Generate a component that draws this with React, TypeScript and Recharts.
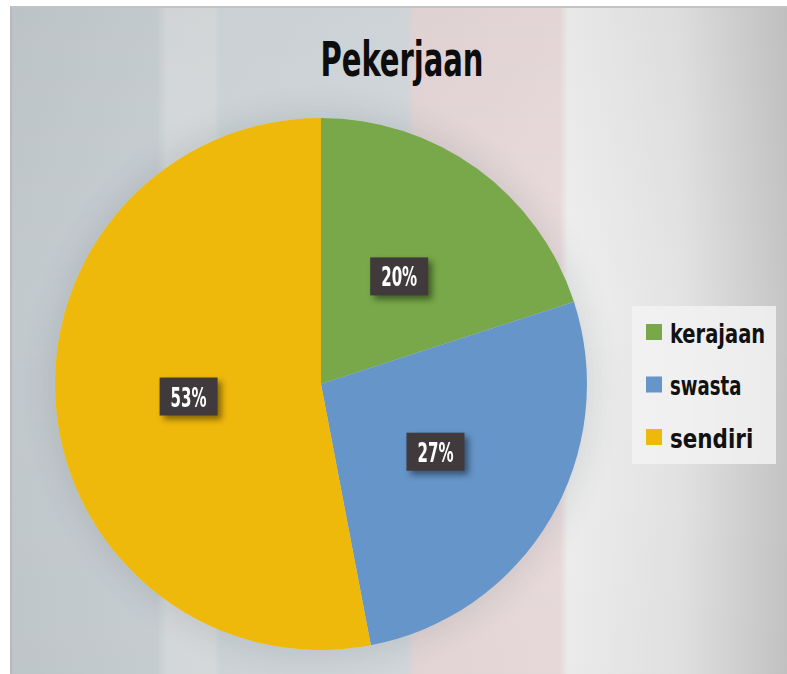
import { PieChart, Pie, Cell, Legend } from "recharts";

const categories = ["kerajaan", "swasta", "sendiri"];
const values = [20, 27, 53];
const colors = ["#78a849", "#6595c9", "#efb90b"];

const data = categories.map((name, i) => ({ name, value: values[i] }));

const FONT = "'Liberation Sans Narrow', 'DejaVu Sans Condensed', sans-serif";
const RADIAN = Math.PI / 180;

function PctLabel(props: any) {
  const { cx, cy, midAngle, outerRadius, percent } = props;
  const r = outerRadius * 0.5;
  const x = cx + r * Math.cos(-midAngle * RADIAN);
  const y = cy + r * Math.sin(-midAngle * RADIAN);
  const text = `${Math.round(percent * 100)}%`;
  return (
    <g style={{ filter: "drop-shadow(4px 4px 3px rgba(0,0,0,0.45))" }}>
      <rect x={x - 29} y={y - 19} width={58} height={38} fill="#403a3c" />
      <text
        x={x}
        y={y + 10}
        textAnchor="middle"
        fill="#ffffff"
        fontFamily={FONT}
        fontWeight="bold"
        fontSize={27}
        textLength={36}
        lengthAdjust="spacingAndGlyphs"
      >
        {text}
      </text>
    </g>
  );
}

function LegendBox() {
  return (
    <div style={{ width: 144, height: 158, background: "rgba(242,242,242,0.85)" }}>
      <svg width={144} height={158} style={{ overflow: "visible" }}>
        {categories.map((c, i) => (
          <g key={c}>
            <rect x={14} y={18 + i * 52.5} width={16} height={16} fill={colors[i]} />
            <text
              x={38}
              y={35 + i * 52.5}
              fill="#111"
              fontFamily={FONT}
              fontWeight="bold"
              fontSize={22}
              textLength={c.length * 11.9}
              lengthAdjust="spacingAndGlyphs"
              style={{ transform: `translateY(${3 + i * 0}px) scaleY(1.18)`, transformBox: "fill-box", transformOrigin: "left bottom" }}
            >
              {c}
            </text>
          </g>
        ))}
      </svg>
    </div>
  );
}

export default function App() {
  return (
    <div style={{ position: "fixed", left: 0, top: 0, width: 787, height: 674, background: "#ffffff", overflow: "hidden" }}>
      <div
        style={{
          position: "absolute",
          left: 10,
          top: 6,
          right: 0,
          bottom: 0,
          borderLeft: "2px solid #b9b9b9",
          borderTop: "2px solid #c2c2c2",
          background:
            "linear-gradient(90deg, #c2c9cd 0px, #c9d0d4 145px, #d8dbdd 155px, #d9dcdd 202px, #d0d7da 208px, #d4dadd 395px, #e6d8d9 402px, #eadcdd 548px, #efefef 556px, #e3e3e3 670px, #c5c5c5 775px)",
        }}
      />
      <div
        style={{
          position: "absolute",
          left: 12,
          top: 8,
          right: 0,
          bottom: 0,
          background: "linear-gradient(180deg, rgba(0,0,0,0.03), rgba(0,0,0,0) 45%, rgba(0,0,0,0.02))",
        }}
      />
      <div
        style={{
          position: "absolute",
          left: 321 - 266,
          top: 384 - 266,
          width: 532,
          height: 532,
          borderRadius: "50%",
          boxShadow: "0 0 28px 8px rgba(60,70,80,0.12)",
        }}
      />
      <svg style={{ position: "absolute", left: 0, top: 0 }} width={787} height={100}>
        <text
          x={402}
          y={76}
          textAnchor="middle"
          fill="#0d0d0d"
          fontFamily={FONT}
          fontWeight="bold"
          fontSize={48}
          textLength={163}
          lengthAdjust="spacingAndGlyphs"
        >
          Pekerjaan
        </text>
      </svg>
      <div style={{ position: "absolute", left: 0, top: 0 }}>
        <PieChart width={787} height={674} margin={{ top: 0, right: 0, bottom: 0, left: 0 }}>
          <Pie
            data={data}
            dataKey="value"
            nameKey="name"
            cx={321}
            cy={384}
            outerRadius={266}
            startAngle={90}
            endAngle={-270}
            stroke="none"
            label={PctLabel}
            labelLine={false}
            isAnimationActive={false}
          >
            {data.map((d, i) => (
              <Cell key={d.name} fill={colors[i]} />
            ))}
          </Pie>
          <Legend
            layout="vertical"
            content={() => <LegendBox />}
            wrapperStyle={{ position: "absolute", left: 632, top: 306, width: 144, height: 158 }}
          />
        </PieChart>
      </div>
    </div>
  );
}
